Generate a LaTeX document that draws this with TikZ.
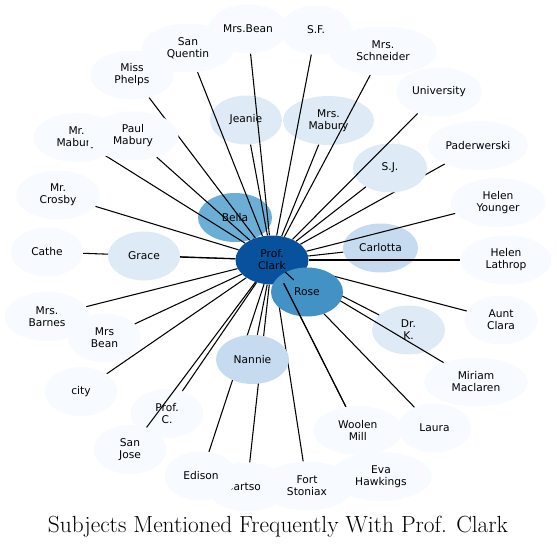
\documentclass[tikz,border=0pt]{standalone}
\usepackage{fontspec}
\setsansfont{DejaVu Sans}
\usetikzlibrary{shapes.geometric}
\definecolor{blues0}{HTML}{F7FBFF}
\definecolor{blues1}{HTML}{DEEBF7}
\definecolor{blues2}{HTML}{C6DBEF}
\definecolor{blues4}{HTML}{6BAED6}
\definecolor{blues5}{HTML}{4292C6}
\definecolor{blues7}{HTML}{08519C}
\tikzset{
  subj/.style={ellipse,fill=#1,inner sep=0pt,minimum height=36.75pt,
    align=center,font=\sffamily\fontsize{8}{9}\selectfont},
  subj/.default=blues0,
  wd/.style={minimum width=#1*0.75pt},
  link/.style={line width=0.8pt}
}

\begin{document}
\begin{tikzpicture}[x=0.75pt,y=-0.75pt]
        \useasboundingbox (0,0) rectangle (557,547);
        % outer ring
        \node[subj,wd=86] (mrmabury) at (76.5,137.5) {Mr.\\Mabury};
        \node[subj,wd=84] (missphelps) at (132,75) {Miss\\Phelps};
        \node[subj,wd=92] (sanquentin) at (188,48) {San\\Quentin};
        \node[subj,wd=79] (mrsbean) at (248,29) {Mrs.Bean};
        \node[subj,wd=72] (sf) at (316,30) {S.F.};
        \node[subj,wd=108] (schneider) at (383,51) {Mrs.\\Schneider};
        \node[subj,wd=86] (university) at (439,92) {University};
        \node[subj,wd=100] (paderwerski) at (478,145.5) {Paderwerski};
        \node[subj,wd=95] (helenyounger) at (498,202.5) {Helen\\Younger};
        \node[subj,wd=91] (helenlathrop) at (506,260) {Helen\\Lathrop};
        \node[subj,wd=73] (auntclara) at (501,320) {Aunt\\Clara};
        \node[subj,wd=104] (miriam) at (476,382) {Miriam\\Maclaren};
        \node[subj,wd=73] (laura) at (434.5,428) {Laura};
        \node[subj,wd=102] (eva) at (381,476.5) {Eva\\Hawkings};
        \node[subj,wd=80] (bartson) at (247,487) {Bartson};
        \node[subj,wd=94] (fortstoniax) at (307,486) {Fort\\Stoniax};
        \node[subj,wd=73] (edison) at (201,476) {Edison};
        \node[subj,wd=73] (profc) at (167,413.5) {Prof.\\C.};
        \node[subj,wd=73] (sanjose) at (130,449.5) {San\\Jose};
        \node[subj,wd=73] (city) at (81,391.5) {city};
        \node[subj,wd=85] (mrsbarnes) at (47,316.5) {Mrs.\\Barnes};
        \node[subj,wd=73] (mrsbeanii) at (104.5,338) {Mrs\\Bean};
        \node[subj,wd=72] (cathe) at (47,252) {Cathe};
        \node[subj,wd=84] (mrcrosby) at (58,195) {Mr.\\Crosby};
        % inner ring
        \node[subj=blues4,wd=74] (bella) at (235,217.5) {Bella};
        \node[subj=blues1,wd=72] (jeanie) at (246,120) {Jeanie};
        \node[subj=blues1,wd=91] (mrsmabury) at (328.5,120.5) {Mrs.\\Mabury};
        \node[subj=blues2,wd=75] (carlotta) at (380.5,248) {Carlotta};
        \node[subj=blues1,wd=73] (drk) at (408.5,330) {Dr.\\K.};
        \node[subj=blues7,wd=73] (clark) at (272,260) {Prof.\\Clark};
        \path[link]
          (clark) edge (mrmabury) edge (missphelps) edge (sanquentin)
          (clark) edge (mrsbean) edge (sf) edge (schneider)
          (clark) edge (paderwerski) edge (helenyounger) edge (helenlathrop)
          (clark) edge (auntclara) edge (miriam) edge (laura)
          (clark) edge (bartson) edge (fortstoniax) edge (edison)
          (clark) edge (profc) edge (sanjose) edge (city)
          (clark) edge (mrsbarnes) edge (mrsbeanii) edge (cathe)
          (clark) edge (mrcrosby) edge (bella) edge (jeanie)
          (clark) edge (mrsmabury) edge (carlotta) edge (drk);
        % these sit on top of the first edges
        \node[subj=blues1,wd=72] (grace) at (144,256) {Grace};
        \node[subj,wd=91] (paulmabury) at (133,136) {Paul\\Mabury};
        \node[subj=blues2,wd=73] (nannie) at (252.5,359.5) {Nannie};
        \node[subj=blues5,wd=72] (rose) at (307,292) {Rose};
        \node[subj=blues1,wd=74] (sj) at (390,168) {S.J.};
        \path[link]
          (clark) edge (grace) edge (paulmabury) edge (nannie)
          (clark) edge (rose) edge (sj) edge (university)
          (clark) edge (eva);
        \node[subj,wd=89] (woolenmill) at (357.8,430.5) {Woolen\\Mill};
        \path[link] (clark) edge (woolenmill);
        \node[font=\fontsize{17.5}{21}\selectfont,anchor=base] (title) at (278,532)
          {Subjects Mentioned Frequently With Prof. Clark};
      \end{tikzpicture}
\end{document}
